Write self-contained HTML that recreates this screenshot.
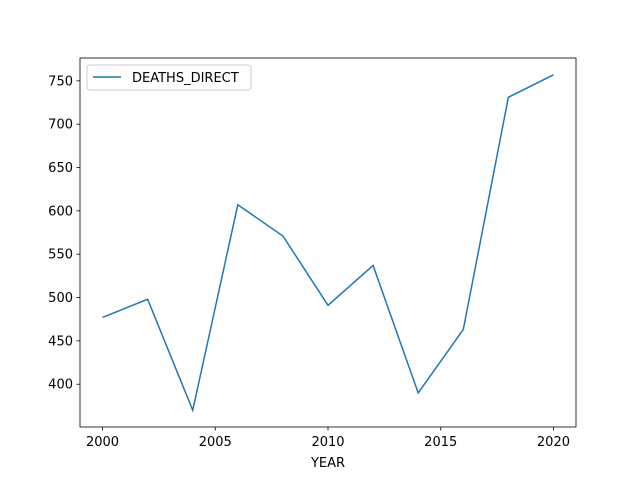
<!DOCTYPE html>
<html><head><meta charset="utf-8"><style>
body{margin:0;background:#fff;}
svg{display:block;font-family:"DejaVu Sans","Liberation Sans",sans-serif;}
</style></head><body>
<svg id="chart" width="640" height="480">
<rect width="640" height="480" fill="#fff"/>
<g id="ticks"></g>
<polyline id="line" fill="none" stroke="#1f77b4" stroke-width="1.5"/>
<rect x="80" y="58" width="496" height="369" fill="none" stroke="#000" stroke-width="0.8"/>
<text x="328" y="467" font-size="13" text-anchor="middle">YEAR</text>
<g>
<rect x="87" y="65" width="164" height="25" rx="3" fill="#fff" stroke="#ccc" stroke-width="1"/>
<line x1="93" y1="77" x2="121" y2="77" stroke="#1f77b4" stroke-width="1.5"/>
<text x="132" y="82" font-size="13">DEATHS_DIRECT</text>
</g>
</svg>
<script>
const years=[2000,2002,2004,2006,2008,2010,2012,2014,2016,2018,2020];
const deaths=[477,498,370,607,571,491,537,390,463,731,757];
const xTicks=[2000,2005,2010,2015,2020];
const yTicks=[400,450,500,550,600,650,700,750];
const X0=80,X1=576,Y0=427,Y1=58;
const xmin=1999,xmax=2021;
const dmin=Math.min(...deaths),dmax=Math.max(...deaths),m=(dmax-dmin)*0.05;
const ymin=dmin-m,ymax=dmax+m;
const sx=v=>X0+(v-xmin)/(xmax-xmin)*(X1-X0);
const sy=v=>Y0-(v-ymin)/(ymax-ymin)*(Y0-Y1);
const NS="http://www.w3.org/2000/svg";
const g=document.getElementById('ticks');
function mk(t,a){const e=document.createElementNS(NS,t);for(const k in a)e.setAttribute(k,a[k]);return e;}
xTicks.forEach(v=>{
 const x=sx(v);
 const l=mk('line',{x1:x,x2:x,y1:Y0,y2:Y0+3.5,stroke:'#000','stroke-width':0.8});
 
 
 g.appendChild(l);
 const t=mk('text',{x:x,y:Y0+19,'font-size':13,'text-anchor':'middle'});
 t.textContent=v;
 
 
 g.appendChild(t);
});
yTicks.forEach(v=>{
 const y=sy(v);
 const l=mk('line',{x1:X0-3.5,x2:X0,y1:y,y2:y,stroke:'#000','stroke-width':0.8});
 
 
 g.appendChild(l);
 const t=mk('text',{x:X0-7,y:y+4.5,'font-size':13,'text-anchor':'end'});
 t.textContent=v;
 
 
 g.appendChild(t);
});
document.getElementById('line').setAttribute('points',years.map((yr,i)=>sx(yr)+','+sy(deaths[i])).join(' '));
</script>
</body></html>
